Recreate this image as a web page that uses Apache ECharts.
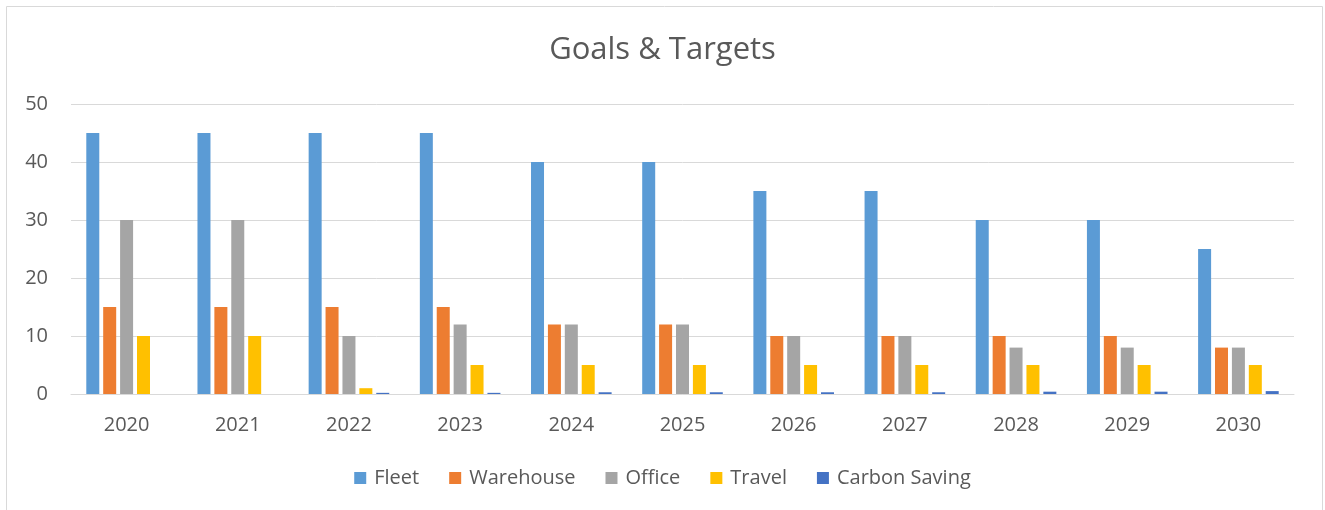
<!DOCTYPE html>
<html>
<head>
<meta charset="utf-8">
<script src="https://cdn.jsdelivr.net/npm/echarts@6/dist/echarts.min.js"></script>
<style>
  html, body { margin: 0; padding: 0; background: #fff; }
  #chart { width: 1325px; height: 510px; }
</style>
</head>
<body>
<div id="chart"></div>
<script>
// values
const years = ['2020', '2021', '2022', '2023', '2024', '2025', '2026', '2027', '2028', '2029', '2030']
const fleet = [45, 45, 45, 45, 40, 40, 35, 35, 30, 30, 25]
const warehouse = [15, 15, 15, 15, 12, 12, 10, 10, 10, 10, 8]
const office = [30, 30, 10, 12, 12, 12, 10, 10, 8, 8, 8]
const travel = [10, 10, 1, 5, 5, 5, 5, 5, 5, 5, 5]
const carbonSaving = [0, 0, 0.2, 0.2, 0.3, 0.3, 0.3, 0.3, 0.4, 0.4, 0.5]
const yTicks = [0, 10, 20, 30, 40, 50]

const textColor = '#595959'
const font = 'Open Sans'

function bar(name, data, color) {
  return {
    name: name,
    type: 'bar',
    data: data,
    barWidth: 13,
    barGap: '30%',
    itemStyle: { color: color },
  }
}

const chart = echarts.init(document.getElementById('chart'))
chart.setOption({
  animation: false,
  textStyle: { fontFamily: font, color: textColor },
  title: {
    text: 'Goals & Targets',
    left: 'center',
    top: 30,
    textStyle: { fontFamily: font, fontSize: 31, fontWeight: 'normal', color: textColor },
  },
  graphic: [
    {
      type: 'rect',
      shape: { x: 6.5, y: 6.5, width: 1316, height: 600 },
      style: { fill: 'none', stroke: '#d9d9d9', lineWidth: 1 },
      silent: true,
    },
  ],
  legend: {
    bottom: 17,
    left: 'center',
    itemWidth: 12,
    itemHeight: 12,
    itemGap: 30,
    icon: 'rect',
    textStyle: { fontFamily: font, fontSize: 20, color: textColor, padding: [0, 0, 0, 3] },
  },
  grid: {
    left: 71,
    right: 31,
    top: 104,
    bottom: 116,
    containLabel: false,
  },
  xAxis: {
    type: 'category',
    data: years,
    axisTick: { show: false },
    axisLine: { lineStyle: { color: '#d9d9d9', width: 1 } },
    axisLabel: { fontFamily: font, fontSize: 20, color: textColor, margin: 21 },
  },
  yAxis: {
    type: 'value',
    min: yTicks[0],
    max: yTicks[yTicks.length - 1],
    interval: 10,
    axisLine: { show: false },
    axisTick: { show: false },
    splitLine: { lineStyle: { color: '#d9d9d9', width: 1 } },
    axisLabel: { fontFamily: font, fontSize: 20, color: textColor, margin: 23 },
  },
  series: [
    bar('Fleet', fleet, '#5B9BD5'),
    bar('Warehouse', warehouse, '#ED7D31'),
    bar('Office', office, '#A5A5A5'),
    bar('Travel', travel, '#FFC000'),
    bar('Carbon Saving', carbonSaving, '#4472C4'),
  ],
})
</script>
</body>
</html>
